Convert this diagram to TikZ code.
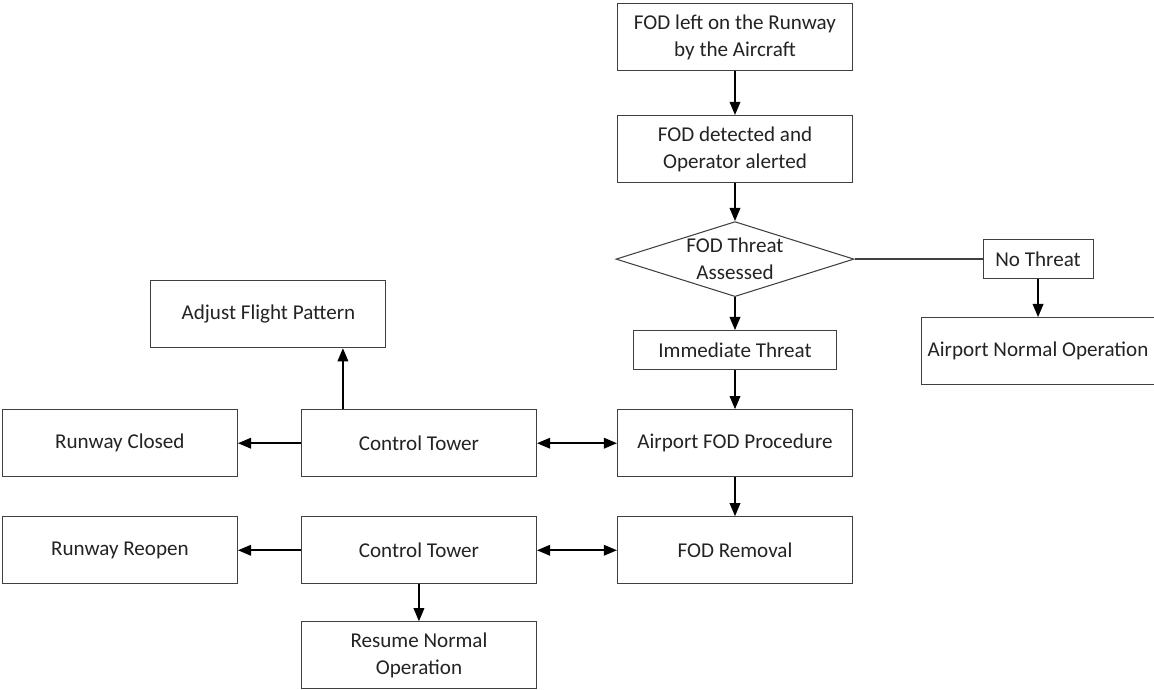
\documentclass[tikz,border=0pt]{standalone}
\usepackage{fontspec}
\setmainfont{Carlito}
\definecolor{EdgeGray}{RGB}{64, 64, 64}
\definecolor{InkGray}{RGB}{35, 35, 35}
\usepackage{tikz}
\usetikzlibrary{arrows.meta, positioning, shapes.geometric}

\begin{document}
\begin{tikzpicture}[
    every node/.style={font=\fontsize{12}{15.3}\selectfont, align=center, text=InkGray},
    box/.style={draw=EdgeGray, line width=0.6pt, minimum width=4.7cm, minimum height=1.34cm, inner sep=2pt},
    tag/.style={draw=EdgeGray, line width=0.6pt, minimum height=0.78cm, inner sep=2pt},
    decide/.style={diamond, draw=EdgeGray, line width=0.6pt, minimum width=4.76cm, minimum height=1.5cm, inner sep=0pt},
    arr/.style={-{Triangle[length=7.5pt, width=6pt]}, line width=1.1pt, black},
    both/.style={{Triangle[length=7.5pt, width=6pt]}-{Triangle[length=7.5pt, width=6pt]}, line width=1.1pt, black}
]
\useasboundingbox (0,0) rectangle (23.08,-13.8);

% main column
\node[box] (fodleft) at (14.70,-0.74) {FOD left on the Runway\\by the Aircraft};
\node[box, below=0.88cm of fodleft] (detected) {FOD detected and\\Operator alerted};
\node[decide, below=0.76cm of detected,
      label={[align=center, font=\fontsize{12}{15.3}\selectfont, text=InkGray]center:FOD Threat\\Assessed}] (assess) {};
\node[tag, minimum width=4.06cm, below=0.66cm of assess] (immediate) {Immediate Threat};
\node[box, below=0.78cm of immediate] (procedure) {Airport FOD Procedure};
\node[box, below=0.78cm of procedure] (removal) {FOD Removal};

% no threat branch
\node[tag, minimum width=2.2cm, right=2.56cm of assess] (nothreat) {No Threat};
\node[box, minimum width=4.66cm, below=0.76cm of nothreat] (normal) {Airport Normal Operation};

% control tower side
\node[box, left=1.6cm of procedure] (tower1) {Control Tower};
\node[box, left=1.26cm of tower1] (closed) {Runway Closed};
\node[box, above=1.22cm of tower1, xshift=-3.01cm] (adjust) {Adjust Flight Pattern};
\node[box, left=1.6cm of removal] (tower2) {Control Tower};
\node[box, left=1.26cm of tower2] (reopen) {Runway Reopen};
\node[box, below=0.74cm of tower2] (resume) {Resume Normal\\Operation};

\draw[arr] (fodleft) -- (detected);
\draw[arr] (detected) -- (assess);
\draw[arr] (assess) -- (immediate);
\draw[arr] (immediate) -- (procedure);
\draw[arr] (procedure) -- (removal);
\draw[line width=0.8pt, EdgeGray] (assess.east) -- (nothreat.west);
\draw[arr] (nothreat) -- (normal);

\draw[both] (tower1.east) -- (tower1.east -| procedure.west);
\draw[both] (tower2.east) -- (tower2.east -| removal.west);
\draw[arr] (tower1) -- (closed);
\draw[arr] ([xshift=0.84cm]tower1.north west) coordinate (up) -- (up |- adjust.south);
\draw[arr] (tower2) -- (reopen);
\draw[arr] (tower2) -- (resume);
\end{tikzpicture}
\end{document}
